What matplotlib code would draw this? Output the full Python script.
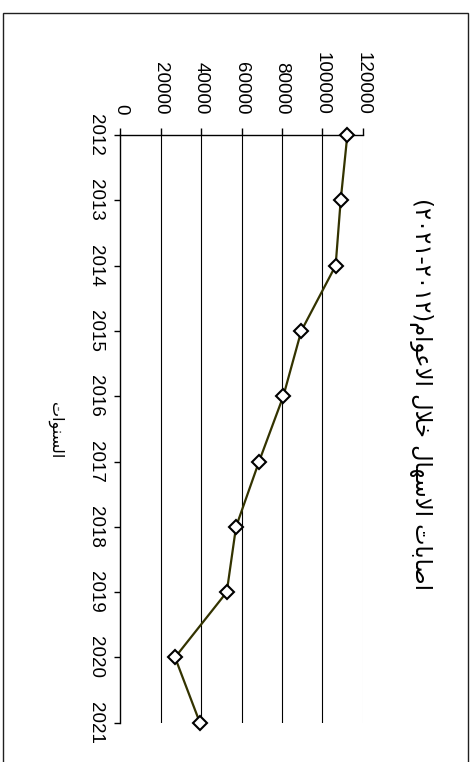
import matplotlib
matplotlib.use("Agg")
import matplotlib.pyplot as plt
from matplotlib.patches import Rectangle

# ---------------- data ----------------
years = [2012, 2013, 2014, 2015, 2016, 2017, 2018, 2019, 2020, 2021]
cases = [112400, 109100, 106600, 89600, 80700, 68700, 57300, 52700, 27100, 39400]
value_ticks = [0, 20000, 40000, 60000, 80000, 100000, 120000]
title_words = "اصابات الاسهال خلال الاعوام"
title_years = ("٢٠١٢", "٢٠٢١")
xlabel_text = "السنوات"

# ------------- minimal Arabic shaping (matplotlib has no shaping/bidi) -------------
FORMS = {
    'ا': (0xFE8D, 0xFE8E, None, None),
    'ب': (0xFE8F, 0xFE90, 0xFE91, 0xFE92),
    'ت': (0xFE95, 0xFE96, 0xFE97, 0xFE98),
    'خ': (0xFEA5, 0xFEA6, 0xFEA7, 0xFEA8),
    'س': (0xFEB1, 0xFEB2, 0xFEB3, 0xFEB4),
    'ص': (0xFEB9, 0xFEBA, 0xFEBB, 0xFEBC),
    'ع': (0xFEC9, 0xFECA, 0xFECB, 0xFECC),
    'ل': (0xFEDD, 0xFEDE, 0xFEDF, 0xFEE0),
    'م': (0xFEE1, 0xFEE2, 0xFEE3, 0xFEE4),
    'ن': (0xFEE5, 0xFEE6, 0xFEE7, 0xFEE8),
    'ه': (0xFEE9, 0xFEEA, 0xFEEB, 0xFEEC),
    'و': (0xFEED, 0xFEEE, None, None),
    'لا': (0xFEFB, 0xFEFC, None, None),
}


def shape(text):
    toks = []
    i = 0
    while i < len(text):
        if text[i] == 'ل' and i + 1 < len(text) and text[i + 1] == 'ا':
            toks.append('لا')
            i += 2
        else:
            toks.append(text[i])
            i += 1
    out = []
    for k, t in enumerate(toks):
        if t not in FORMS:
            out.append(t)
            continue
        f = FORMS[t]
        prev = toks[k - 1] if k > 0 else None
        nxt = toks[k + 1] if k + 1 < len(toks) else None
        cp = prev in FORMS and FORMS[prev][2] is not None
        cn = f[2] is not None and nxt in FORMS
        if cp and cn:
            c = f[3]
        elif cp:
            c = f[1]
        elif cn:
            c = f[2]
        else:
            c = f[0]
        out.append(chr(c))
    return ''.join(out)


def visual(text):
    return shape(text)[::-1]


title_visual = "(" + title_years[1] + "-" + title_years[0] + ")" + visual(title_words)
xlabel_visual = visual(xlabel_text)

# ---------------- figure ----------------
W, H = 471, 762
fig = plt.figure(figsize=(W / 100, H / 100), dpi=100)
fig.patch.set_facecolor("white")

# outer chart frame
fig.add_artist(Rectangle((2.5 / W, -0.02), (468.3 - 2.5) / W, 1.02 - 13.3 / H,
                         transform=fig.transFigure, fill=False,
                         edgecolor="#202020", linewidth=1.0))

x0, x1 = 120.3, 362.7
ytop, ybot = 135.0, 722.7
ax = fig.add_axes([x0 / W, 1 - ybot / H, (x1 - x0) / W, (ybot - ytop) / H])

ax.plot(cases, years, color="#333300", linewidth=1.6, marker="D",
        markersize=6.8, markerfacecolor="white", markeredgecolor="black",
        markeredgewidth=1.5, zorder=3, clip_on=False)

ax.set_xlim(0, 120000)
ax.set_ylim(years[-1], years[0])

# gridlines (value axis)
for v in value_ticks[1:-1]:
    ax.axvline(v, color="black", linewidth=0.8, zorder=1)
ax.axvline(value_ticks[-1], color="#e6e6e6", linewidth=0.8, zorder=1)

for s in ["right", "bottom"]:
    ax.spines[s].set_visible(False)
for s in ["top", "left"]:
    ax.spines[s].set_color("black")
    ax.spines[s].set_linewidth(1.0)

font = "Liberation Sans"
ax.xaxis.tick_top()
ax.set_xticks(value_ticks)
ax.set_xticklabels([str(v) for v in value_ticks], rotation=270,
                   fontsize=13.5, family=font)
ax.tick_params(axis="x", direction="out", length=4.8, width=1.0,
               pad=10, colors="black")

ax.set_yticks(years)
ax.set_yticklabels([str(y) for y in years], rotation=270,
                   fontsize=13.5, family=font, va="center")
ax.tick_params(axis="y", direction="out", length=4.0, width=1.0,
               pad=8, colors="black")

# title (rotated, on the right) and category-axis label (on the left)
fig.text(421 / W, 1 - 394 / H, title_visual, rotation=270,
         ha="center", va="center", fontsize=16.3, family="DejaVu Sans")
fig.text(55 / W, 1 - 430 / H, xlabel_visual, rotation=270,
         ha="center", va="center", fontsize=11.5, family="DejaVu Sans")

fig.savefig("out.png", dpi=100, facecolor="white")
